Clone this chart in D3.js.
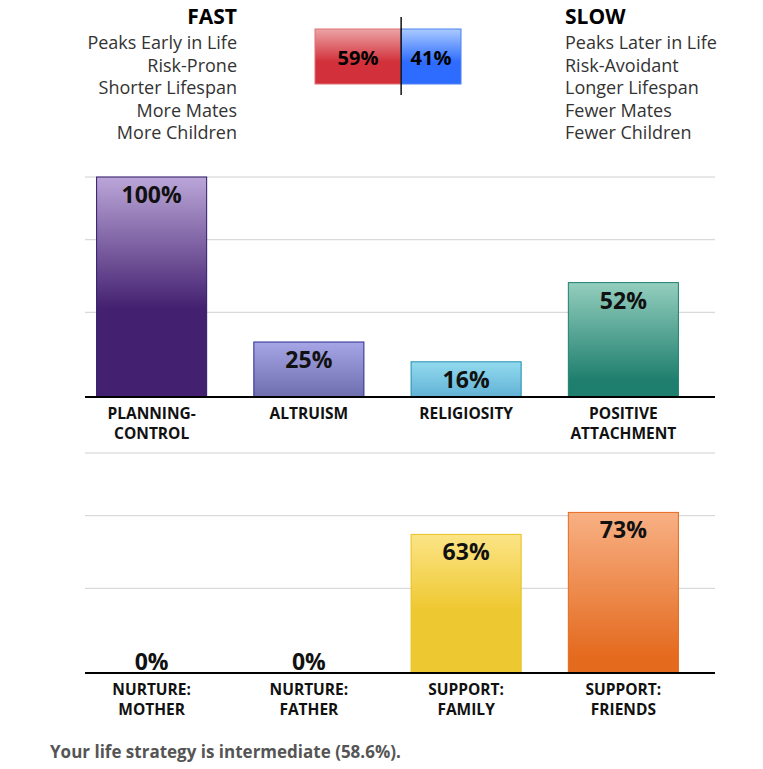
<!DOCTYPE html>
<html><head><meta charset="utf-8">
<script src="https://cdn.jsdelivr.net/npm/d3@7"></script>
<style>body{margin:0;background:#fff;font-family:"Open Sans",sans-serif}</style>
</head><body><svg id="chart" width="763" height="769"></svg>
<script>
// data
const fastTraits = ["Peaks Early in Life", "Risk-Prone", "Shorter Lifespan", "More Mates", "More Children"];
const slowTraits = ["Peaks Later in Life", "Risk-Avoidant", "Longer Lifespan", "Fewer Mates", "Fewer Children"];
const fastPct = 59, slowPct = 41;
const topCats = [["PLANNING-", "CONTROL"], ["ALTRUISM"], ["RELIGIOSITY"], ["POSITIVE", "ATTACHMENT"]];
const topValues = [100, 25, 16, 52];
const bottomCats = [["NURTURE:", "MOTHER"], ["NURTURE:", "FATHER"], ["SUPPORT:", "FAMILY"], ["SUPPORT:", "FRIENDS"]];
const bottomValues = [0, 0, 63, 73];
const gridValues = [38.5, 71.5, 100];
const topColors = [["#bba6d8", "#432070", "#2e1a6a", 0.6], ["#a6a6e6", "#6e6eae", "#2a2a90", 1], ["#92daee", "#62b2d6", "#1e90b0", 1], ["#94cebe", "#1f7f6e", "#1f7f6e", 0.85]];
const bottomColors = [["#ddd", "#ccc", "#aaa", 1], ["#ddd", "#ccc", "#aaa", 1], ["#fce486", "#eec830", "#e8c020", 0.55], ["#f8b084", "#e46a1e", "#e46a1e", 0.9]];

const svg = d3.select("#chart");
const defs = svg.append("defs");

function grad(id, c1, c2, mid) {
  let g = defs.append("linearGradient").attr("id", id).attr("x1", 0).attr("x2", 0).attr("y1", 0).attr("y2", 1);
  g.append("stop").attr("offset", "0%").attr("stop-color", c1);
  g.append("stop").attr("offset", (mid || 1) * 100 + "%").attr("stop-color", c2);
  g.append("stop").attr("offset", "100%").attr("stop-color", c2);
}

// header
let th = svg.append("g");
th.append("text").attr("x", 237).attr("y", 24).attr("text-anchor", "end").attr("font-weight", "bold").attr("font-size", 21).text("FAST");
th.append("text").attr("x", 565).attr("y", 24).attr("font-weight", "bold").attr("font-size", 21).text("SLOW");
fastTraits.forEach((t, i) => th.append("text").attr("x", 237).attr("y", 49 + i * 22.5).attr("text-anchor", "end").attr("font-size", 18).attr("fill", "#333").text(t));
slowTraits.forEach((t, i) => th.append("text").attr("x", 565).attr("y", 49 + i * 22.5).attr("font-size", 18).attr("fill", "#333").text(t));

grad("gRed", "#eba4a6", "#d2303a", 0.6);
grad("gBlue", "#aacaff", "#2e6cff", 0.6);
const xs = d3.scaleLinear().domain([0, 100]).range([315, 461]);
th.append("rect").attr("x", xs(0)).attr("y", 29).attr("width", xs(fastPct) - xs(0)).attr("height", 55).attr("fill", "url(#gRed)").attr("stroke", "#e07070");
th.append("rect").attr("x", xs(fastPct)).attr("y", 29).attr("width", xs(100) - xs(fastPct)).attr("height", 55).attr("fill", "url(#gBlue)").attr("stroke", "#5080f0");
th.append("line").attr("x1", xs(fastPct)).attr("x2", xs(fastPct)).attr("y1", 17).attr("y2", 95).attr("stroke", "#111").attr("stroke-width", 1.5);
th.append("text").attr("x", (xs(0) + xs(fastPct)) / 2).attr("y", 65).attr("text-anchor", "middle").attr("font-weight", "bold").attr("font-size", 20).text(fastPct + "%");
th.append("text").attr("x", (xs(fastPct) + xs(100)) / 2).attr("y", 65).attr("text-anchor", "middle").attr("font-weight", "bold").attr("font-size", 20).text(slowPct + "%");

function barChart(prefix, cats, values, colors, base) {
  const x = d3.scaleBand().domain(d3.range(cats.length)).range([73, 702]).paddingInner(0.3).paddingOuter(0.15);
  const y = d3.scaleLinear().domain([0, 100]).range([base, base - 220]);
  let g = svg.append("g");
  g.selectAll(".grid").data(gridValues).enter().append("line")
    .attr("x1", 85).attr("x2", 715).attr("y1", d => y(d)).attr("y2", d => y(d))
    .attr("stroke", "#d0d0d0").attr("stroke-width", 1);
  values.forEach((v, i) => {
    grad(prefix + i, colors[i][0], colors[i][1], colors[i][3]);
    if (v > 0) {
      g.append("rect").attr("x", x(i)).attr("y", y(v)).attr("width", x.bandwidth()).attr("height", y(0) - y(v))
        .attr("fill", "url(#" + prefix + i + ")").attr("stroke", colors[i][2]);
    }
    let ly = v > 0 ? y(v) + 26 : y(0) - 3;
    g.append("text").attr("x", x(i) + x.bandwidth() / 2).attr("y", ly).attr("text-anchor", "middle")
      .attr("font-weight", "bold").attr("font-size", 23).attr("fill", "#111").text(v + "%");
    cats[i].forEach((l, j) => g.append("text").attr("x", x(i) + x.bandwidth() / 2).attr("y", base + 22 + j * 20)
      .attr("text-anchor", "middle").attr("font-weight", "bold").attr("font-size", 15.5).attr("fill", "#111").text(l));
  });
  g.append("line").attr("x1", 85).attr("x2", 715).attr("y1", base).attr("y2", base).attr("stroke", "#000").attr("stroke-width", 2);
}
barChart("gt", topCats, topValues, topColors, 397);
barChart("gb", bottomCats, bottomValues, bottomColors, 673);

svg.append("text").attr("x", 50).attr("y", 758).attr("font-weight", "bold").attr("font-size", 17).attr("fill", "#555")
  .text("Your life strategy is intermediate (58.6%).");
</script></body></html>
